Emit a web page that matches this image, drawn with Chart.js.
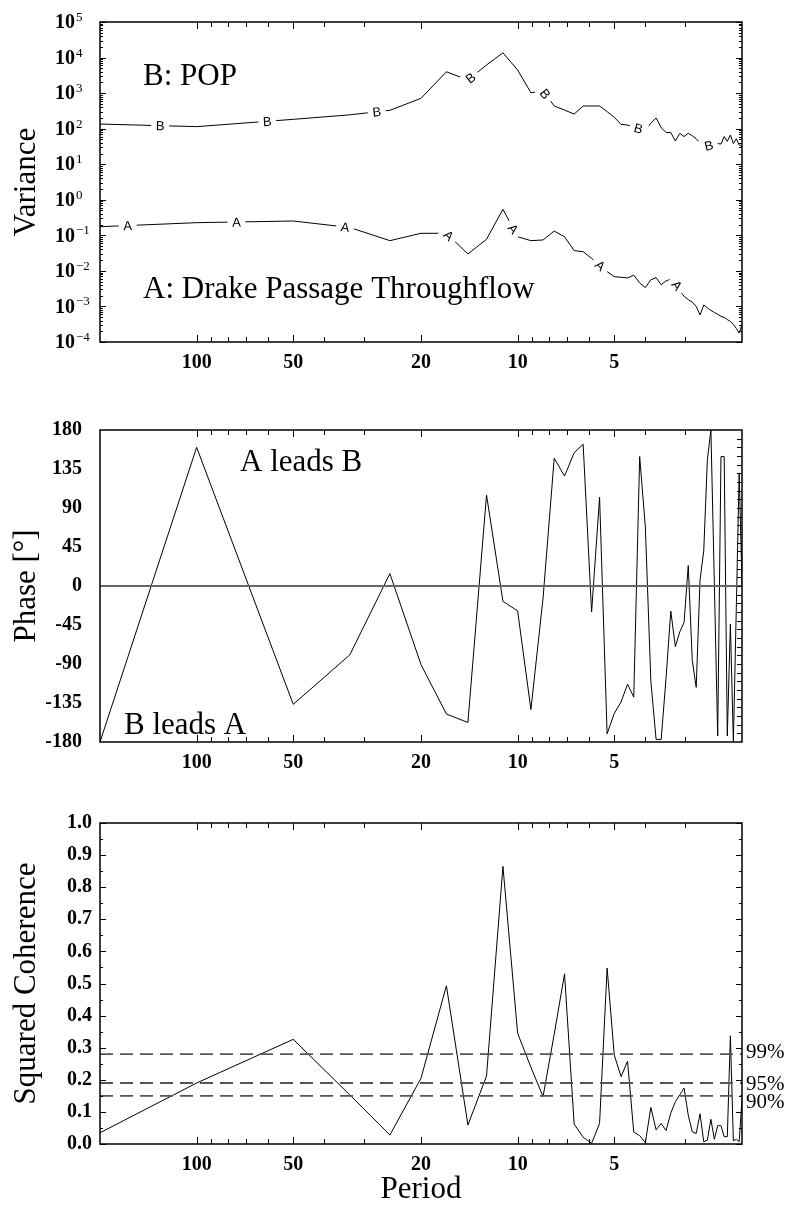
<!DOCTYPE html>
<html>
<head>
<meta charset="utf-8">
<script src="https://cdn.jsdelivr.net/npm/chart.js@4.4.1/dist/chart.umd.min.js"></script>
<style>
  html, body { margin: 0; padding: 0; background: #fff; }
  #wrap { position: relative; width: 787px; height: 1205px; }
  canvas { position: absolute; left: 0; }
</style>
</head>
<body>
<div id="wrap">
  <canvas id="var-chart" width="787" height="400" style="top:0px"></canvas>
  <canvas id="phase-chart" width="787" height="400" style="top:400px"></canvas>
  <canvas id="coh-chart" width="787" height="404" style="top:801px"></canvas>
</div>
<script>
const SERIF = "'Liberation Serif', 'DejaVu Serif', serif";
Chart.defaults.font.family = SERIF;
Chart.defaults.color = '#000';

// frequency (1/yr) of each spectral estimate; axis is labelled in period
const freq = [0.005, 0.01, 0.02, 0.03, 0.04, 0.05, 0.06, 0.07, 0.08, 0.09,
  0.10, 0.11, 0.12, 0.13, 0.14, 0.15, 0.16, 0.17, 0.18, 0.19,
  0.20, 0.21, 0.22, 0.23, 0.24, 0.25, 0.26, 0.27, 0.28, 0.29,
  0.30, 0.31, 0.32, 0.33, 0.34, 0.35, 0.36, 0.37, 0.38, 0.39,
  0.40, 0.41, 0.42, 0.43, 0.44, 0.45, 0.46, 0.47, 0.48, 0.49, 0.50];

const periodTicks = [100, 50, 20, 10, 5];
const periodMinor = [90, 80, 70, 60, 40, 30, 9, 8, 7, 6, 4, 3];

// B: POP
const varianceB = [135, 114, 183, 245, 328, 713, 3980, 2340, 6170, 13600,
  4470, 1020, 1170, 434, 334, 257, 434, 434, 434, 302,
  209, 132, 126, 112, 100, 93, 141, 200, 107, 78,
  78, 45, 74, 60, 74, 63, 52, 40, 35, 33,
  35, 36, 38, 37, 60, 44, 66, 38, 52, 35, 32];

// A: Drake Passage throughflow
const varianceA = [0.175, 0.227, 0.253, 0.166, 0.0708, 0.114, 0.114, 0.0299, 0.0773, 0.540,
  0.0912, 0.0708, 0.0741, 0.132, 0.0912, 0.0372, 0.0347, 0.0224, 0.0148, 0.00955,
  0.00692, 0.00661, 0.00631, 0.00759, 0.00457, 0.00339, 0.00562, 0.00646, 0.00407, 0.00525,
  0.00575, 0.00513, 0.00269, 0.00195, 0.00155, 0.00132, 0.00100, 0.000575, 0.00110, 0.000912,
  0.000776, 0.000676, 0.000603, 0.000525, 0.000490, 0.000427, 0.000380, 0.000316, 0.000240, 0.000178, 0.000316];

// where the letters sit on the variance curves
const labelFreqB = [0.0077, 0.0166, 0.0364, 0.0713, 0.122, 0.238, 0.394];
const labelFreqA = [0.0061, 0.0133, 0.029, 0.061, 0.097, 0.181, 0.314];

const phase = [-180, 160, -136.5, -79.5, 14.3, -90.7, -147.7, -157.5, 105, -17.6,
  -28.8, -142.5, -14, 147.4, 126.8, 153.8, 163.5, -30, 102.4, -170.6,
  -147, -133.8, -113.2, -128.2, 149.3, 68, -109.5, -177, -177, -106,
  -29, -70, -53, -42, 23.6, -86, -117, 6.8, 40.5, 145.5,
  180, 4, -173, 149.3, 149.3, -173, -44, -180, -25, 130.5, 0];

const coherence = [0.035, 0.19, 0.326, 0.153, 0.028, 0.205, 0.493, 0.059, 0.212, 0.865,
  0.345, 0.239, 0.148, 0.342, 0.53, 0.062, 0.021, 0.002, 0.064, 0.548,
  0.277, 0.21, 0.258, 0.037, 0.026, 0.004, 0.114, 0.044, 0.064, 0.042,
  0.096, 0.132, 0.153, 0.174, 0.09, 0.038, 0.033, 0.094, 0.007, 0.012,
  0.077, 0.015, 0.057, 0.057, 0.023, 0.023, 0.337, 0.01, 0.015, 0.007, 0.14];

const sigLevels = [0.28, 0.19, 0.15];
const sigNames = ['99%', '95%', '90%'];

const varExponents = [-4, -3, -2, -1, 0, 1, 2, 3, 4, 5];
const phaseTicks = [-180, -135, -90, -45, 0, 45, 90, 135, 180];
const cohTicks = [0, 0.1, 0.2, 0.3, 0.4, 0.5, 0.6, 0.7, 0.8, 0.9, 1.0];

const pts = arr => freq.map((f, i) => ({ x: f, y: arr[i] }));
const flat = v => [{ x: freq[0], y: v }, { x: freq[freq.length - 1], y: v }];

// inward tick marks, frame, in-plot text
const axisFrame = {
  id: 'axisFrame',
  afterDatasetsDraw(chart, args, o) {
    const { ctx, chartArea: a } = chart;
    const sx = chart.scales.x, sy = chart.scales.y;
    ctx.save();

    (o.curveLabels || []).forEach(c => {
      c.at.forEach(f => {
        let i = 0;
        while (i < freq.length - 2 && freq[i + 1] < f) i++;
        const x0 = sx.getPixelForValue(freq[i]), x1 = sx.getPixelForValue(freq[i + 1]);
        const y0 = sy.getPixelForValue(c.data[i]), y1 = sy.getPixelForValue(c.data[i + 1]);
        const x = sx.getPixelForValue(f);
        const y = y0 + (x - x0) / (x1 - x0) * (y1 - y0);
        let ang = Math.atan2(y1 - y0, x1 - x0);
        ang = Math.max(-0.9, Math.min(0.9, ang));
        ctx.save();
        ctx.translate(x, y);
        ctx.rotate(ang);
        ctx.fillStyle = '#fff';
        ctx.fillRect(-9, -7, 18, 14);
        ctx.fillStyle = '#000';
        ctx.font = "13px 'Liberation Sans', sans-serif";
        ctx.textAlign = 'center';
        ctx.textBaseline = 'middle';
        ctx.fillText(c.letter, 0, 1);
        ctx.restore();
      });
    });

    ctx.strokeStyle = '#000';
    ctx.lineWidth = 1;
    const seg = (x1, y1, x2, y2) => { ctx.beginPath(); ctx.moveTo(x1, y1); ctx.lineTo(x2, y2); ctx.stroke(); };
    periodTicks.forEach(p => {
      const x = Math.round(sx.getPixelForValue(1 / p)) + 0.5;
      seg(x, a.bottom, x, a.bottom - 7);
      seg(x, a.top, x, a.top + 7);
    });
    periodMinor.forEach(p => {
      const x = Math.round(sx.getPixelForValue(1 / p)) + 0.5;
      seg(x, a.bottom, x, a.bottom - 5);
      seg(x, a.top, x, a.top + 5);
    });
    const yt = (vals, len) => vals.forEach(v => {
      const y = Math.round(sy.getPixelForValue(v)) + 0.5;
      if (o.yLeft) seg(a.left, y, a.left + len, y);
      seg(a.right, y, a.right - len, y);
    });
    yt(o.yMajor || [], o.majorLen || 5);
    yt(o.yMinor || [], o.minorLen || 3);

    ctx.lineWidth = 1.5;
    ctx.strokeRect(a.left, a.top, a.right - a.left, a.bottom - a.top);

    ctx.fillStyle = '#000';
    ctx.textAlign = 'left';
    ctx.textBaseline = 'alphabetic';
    (o.texts || []).forEach(t => {
      ctx.font = '31px ' + SERIF;
      ctx.fillText(t.text, a.left + t.dx, a.top + t.dy);
    });

    if (o.logLabels) {
      varExponents.forEach(e => {
        const y = sy.getPixelForValue(Math.pow(10, e));
        ctx.font = 'bold 20px ' + SERIF;
        ctx.textBaseline = 'middle';
        ctx.fillText('10', 55, y + 1);
        const w = ctx.measureText('10').width;
        ctx.font = '13px ' + SERIF;
        ctx.textBaseline = 'alphabetic';
        ctx.fillText(e < 0 ? '\u2212' + (-e) : String(e), 55 + w + 1, y - 1);
      });
    }

    if (o.sigLabels) {
      ctx.font = '21px ' + SERIF;
      ctx.textBaseline = 'alphabetic';
      sigLevels.forEach((v, i) => {
        ctx.fillText(sigNames[i], a.right + 4, sy.getPixelForValue(v) + o.sigOffsets[i]);
      });
    }
    ctx.restore();
  }
};

const tickFont = { family: SERIF, size: 20, weight: 'bold' };
const titleFont = { family: SERIF, size: 31 };

function xAxis(height, title) {
  return {
    type: 'logarithmic', min: 0.005, max: 0.5,
    afterBuildTicks: s => { s.ticks = periodTicks.map(p => ({ value: 1 / p })); },
    ticks: { callback: v => String(Math.round(1 / v)), font: tickFont, padding: 9, maxRotation: 0, autoSkip: false },
    grid: { display: false, drawTicks: false },
    border: { display: false },
    title: title ? { display: true, text: title, font: { ...titleFont, lineHeight: 1 }, padding: 0 } : { display: false },
    afterFit: s => { s.height = height; }
  };
}

function baseOptions(xHeight, xTitle, yScale, frame) {
  return {
    responsive: false,
    animation: false,
    devicePixelRatio: 1,
    layout: { padding: { top: 22, right: 45, left: 0, bottom: 0 } },
    elements: { point: { radius: 0 }, line: { borderWidth: 1, tension: 0 } },
    plugins: { legend: { display: false }, tooltip: { enabled: false }, axisFrame: frame },
    scales: { x: xAxis(xHeight, xTitle), y: yScale }
  };
}

// 1. Variance spectra
const minorLog = [];
varExponents.slice(0, -1).forEach(e => { for (let k = 2; k <= 9; k++) minorLog.push(k * Math.pow(10, e)); });

new Chart(document.getElementById('var-chart'), {
  type: 'line',
  data: { datasets: [
    { data: pts(varianceB), borderColor: '#000' },
    { data: pts(varianceA), borderColor: '#000' }
  ] },
  options: baseOptions(58, null, {
    type: 'logarithmic', min: 1e-4, max: 1e5,
    ticks: { display: false },
    grid: { display: false, drawTicks: false },
    border: { display: false },
    title: { display: true, text: 'Variance', font: titleFont, padding: { top: 8, bottom: 0 } },
    afterFit: s => { s.width = 100; }
  }, {
    yLeft: true,
    yMajor: varExponents.map(e => Math.pow(10, e)), yMinor: minorLog, majorLen: 6, minorLen: 3,
    logLabels: true,
    curveLabels: [
      { letter: 'B', at: labelFreqB, data: varianceB },
      { letter: 'A', at: labelFreqA, data: varianceA }
    ],
    texts: [
      { text: 'B: POP', dx: 43, dy: 63 },
      { text: 'A: Drake Passage Throughflow', dx: 43, dy: 276 }
    ]
  }),
  plugins: [axisFrame]
});

// 2. Phase
const phaseMinor = [];
for (let v = -170; v <= 170; v += 10) phaseMinor.push(v);

new Chart(document.getElementById('phase-chart'), {
  type: 'line',
  data: { datasets: [
    { data: flat(0), borderColor: '#666', borderWidth: 2 },
    { data: pts(phase), borderColor: '#000' }
  ] },
  options: baseOptions(58, null, {
    min: -180, max: 180,
    afterBuildTicks: s => { s.ticks = phaseTicks.map(v => ({ value: v })); },
    ticks: { font: tickFont, padding: 18, callback: v => String(v) },
    grid: { display: false, drawTicks: false },
    border: { display: false },
    title: { display: true, text: 'Phase [\u00b0]', font: titleFont, padding: { top: 8, bottom: 0 } },
    afterFit: s => { s.width = 100; }
  }, {
    yLeft: false,
    yMinor: phaseMinor, minorLen: 5,
    texts: [
      { text: 'A leads B', dx: 140, dy: 41 },
      { text: 'B leads A', dx: 24, dy: 304 }
    ]
  }),
  plugins: [axisFrame]
});

// 3. Squared coherence
const cohMinor = cohTicks.slice(0, -1).map(v => v + 0.05);

new Chart(document.getElementById('coh-chart'), {
  type: 'line',
  data: { datasets: [
    ...sigLevels.map(v => ({ data: flat(v), borderColor: '#555', borderWidth: 1.8, borderDash: [13, 7] })),
    { data: pts(coherence), borderColor: '#000' }
  ] },
  options: baseOptions(61, 'Period', {
    min: 0, max: 1,
    afterBuildTicks: s => { s.ticks = cohTicks.map(v => ({ value: v })); },
    ticks: { font: tickFont, padding: 8, callback: v => v.toFixed(1) },
    grid: { display: false, drawTicks: false },
    border: { display: false },
    title: { display: true, text: 'Squared Coherence', font: titleFont, padding: { top: 8, bottom: 0 } },
    afterFit: s => { s.width = 100; }
  }, {
    yLeft: true,
    yMajor: cohTicks, yMinor: cohMinor, majorLen: 6, minorLen: 3,
    sigLabels: true, sigOffsets: [4, 7, 12]
  }),
  plugins: [axisFrame]
});
</script>
</body>
</html>
